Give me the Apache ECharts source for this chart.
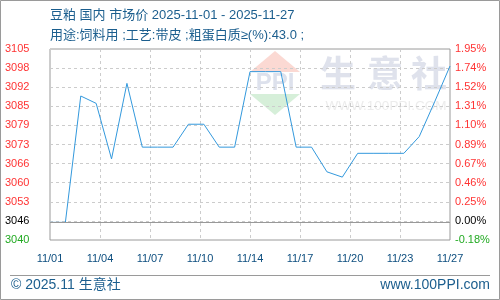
<!DOCTYPE html>
<html>
<head>
<meta charset="utf-8">
<script src="https://cdn.jsdelivr.net/npm/echarts@6/dist/echarts.min.js"></script>
<style>html,body{margin:0;padding:0;background:#fff;}#c{width:500px;height:300px;}</style>
</head>
<body>
<div id="c"></div>
<script>
var dates = ['11/01','11/02','11/03','11/04','11/05','11/06','11/07','11/08','11/09','11/10','11/11','11/12','11/13','11/14','11/15','11/16','11/17','11/18','11/19','11/20','11/21','11/22','11/23','11/24','11/25','11/26','11/27'];
var prices = [3046,3046,3089,3086.5,3067.6,3093.3,3071.6,3071.6,3071.6,3079.4,3079.4,3071.6,3071.6,3097.3,3097.3,3097.3,3071.6,3071.6,3063.2,3061.4,3069.5,3069.5,3069.5,3069.5,3075.2,3087,3099.2];
var basePrice = 3046;
var xTickLabels = ['11/01','11/04','11/07','11/10','11/14','11/17','11/20','11/23','11/27'];
var leftTickLabels = ['3040','3046','3053','3060','3066','3073','3079','3085','3092','3098','3105'];
var rightTickLabels = ['-0.18%','0.00%','0.25%','0.46%','0.67%','0.89%','1.10%','1.31%','1.52%','1.74%','1.95%'];
var titleLine1 = '豆粕 国内 市场价 2025-11-01 - 2025-11-27';
var titleLine2 = '用途:饲料用 ;工艺:带皮 ;粗蛋白质≥(%):43.0 ;';
var footLeft = '© 2025.11 生意社';
var footRight = 'www.100PPI.com';

var yMin = 3040, yMax = 3105, yStep = 6.5;
var xStep = (dates.length - 1) / (xTickLabels.length - 1);
function yIdx(v){ return Math.round((v - yMin) / yStep); }
function labelColor(i){ return i === 0 ? '#22aa22' : (i === 1 ? '#000000' : '#ff3333'); }

var chart = echarts.init(document.getElementById('c'), null, {renderer:'canvas'});
var lblFont = '"Liberation Sans", Arial, sans-serif';
var cjkFont = '"Liberation Sans", "Noto Sans CJK SC", sans-serif';
var textBlue = '#1b5e8e';

chart.setOption({
  animation: false,
  backgroundColor: '#fff',
  grid: {left: 50, right: 50, top: 49, bottom: 60, show: true, borderColor: '#9a9a9a', borderWidth: 1, containLabel: false},
  xAxis: {
    type: 'value', min: 0, max: dates.length - 1, interval: xStep,
    axisLine: {show: false}, axisTick: {show: false},
    splitLine: {show: true, lineStyle: {color: '#cccccc', type: [3, 3], width: 1}},
    axisLabel: {
      margin: 13, fontSize: 11, fontFamily: lblFont, color: '#0d4e7f',
      showMinLabel: true, showMaxLabel: true,
      formatter: function(v){ return xTickLabels[Math.round(v / xStep)] || ''; }
    }
  },
  yAxis: [{
    type: 'value', min: yMin, max: yMax, interval: yStep,
    axisLine: {show: false}, axisTick: {show: false},
    splitLine: {show: true, lineStyle: {color: '#cccccc', type: [3, 3], width: 1}},
    axisLabel: {
      align: 'left', margin: 45, fontSize: 11, fontFamily: lblFont,
      showMinLabel: true, showMaxLabel: true,
      formatter: function(v){ return leftTickLabels[yIdx(v)] || ''; },
      color: function(v){ return labelColor(yIdx(v)); }
    }
  },{
    type: 'value', min: yMin, max: yMax, interval: yStep, position: 'right',
    axisLine: {show: false}, axisTick: {show: false}, splitLine: {show: false},
    axisLabel: {
      align: 'left', margin: 5, fontSize: 11, fontFamily: lblFont,
      showMinLabel: true, showMaxLabel: true,
      formatter: function(v){ return rightTickLabels[yIdx(v)] || ''; },
      color: function(v){ return labelColor(yIdx(v)); }
    }
  }],
  series: [{
    type: 'line', z: 1, data: [], silent: true,
    markLine: {symbol: ['none','none'], silent: true, label: {show: false},
      lineStyle: {color: '#999999', type: 'solid', width: 1},
      data: [{yAxis: basePrice}]}
  },{
    type: 'line', z: 3, showSymbol: false, symbol: 'none',
    lineStyle: {color: '#3399dd', width: 1},
    data: prices.map(function(p, i){ return [i, p]; })
  }],
  graphic: [
    {type: 'rect', z: 0, silent: true, shape: {x: 0.5, y: 0.5, width: 499, height: 299}, style: {fill: 'none', stroke: '#9a9a9a', lineWidth: 1}},
    {type: 'text', x: 50, y: 15, style: {text: titleLine1, fill: textBlue, font: '13px ' + cjkFont, textVerticalAlign: 'middle'}},
    {type: 'text', x: 50, y: 35, style: {text: titleLine2, fill: textBlue, font: '13px ' + cjkFont, textVerticalAlign: 'middle'}},
    {type: 'line', shape: {x1: 10, y1: 275.5, x2: 490, y2: 275.5}, style: {stroke: '#9a9a9a', lineWidth: 1}},
    {type: 'text', x: 11, y: 285, style: {text: footLeft, fill: textBlue, font: '14px ' + cjkFont, textVerticalAlign: 'middle'}},
    {type: 'text', x: 490, y: 285, style: {text: footRight, fill: textBlue, font: '14px ' + cjkFont, textVerticalAlign: 'middle', textAlign: 'right'}},
    /* watermark */
    {type: 'polygon', z: -1, silent: true, shape: {points: [[250,72],[275,51],[300,72]]}, style: {fill: '#fbd9d3'}},
    {type: 'polygon', z: -1, silent: true, shape: {points: [[250,94],[275,115],[300,94]]}, style: {fill: '#d6efd9'}},
    {type: 'text', z: -1, silent: true, x: 275, y: 83, style: {text: 'PPI', fill: '#dde1ec', font: 'bold 24px "Liberation Sans", sans-serif', textAlign: 'center', textVerticalAlign: 'middle'}},
    {type: 'text', z: -1, silent: true, x: 338, y: 73, style: {text: '生', fill: '#dfe2ec', font: 'bold 36px "Noto Sans CJK SC", sans-serif', textAlign: 'center', textVerticalAlign: 'middle'}},
    {type: 'text', z: -1, silent: true, x: 385, y: 73, style: {text: '意', fill: '#dfe2ec', font: 'bold 36px "Noto Sans CJK SC", sans-serif', textAlign: 'center', textVerticalAlign: 'middle'}},
    {type: 'text', z: -1, silent: true, x: 429, y: 73, style: {text: '社', fill: '#dfe2ec', font: 'bold 36px "Noto Sans CJK SC", sans-serif', textAlign: 'center', textVerticalAlign: 'middle'}},
    {type: 'text', z: -1, silent: true, x: 386, y: 106, style: {text: 'WWW.100PPI.COM', fill: '#ececec', font: '13.5px "Liberation Sans", sans-serif', textAlign: 'center', textVerticalAlign: 'middle'}}
  ]
});
</script>
</body>
</html>
